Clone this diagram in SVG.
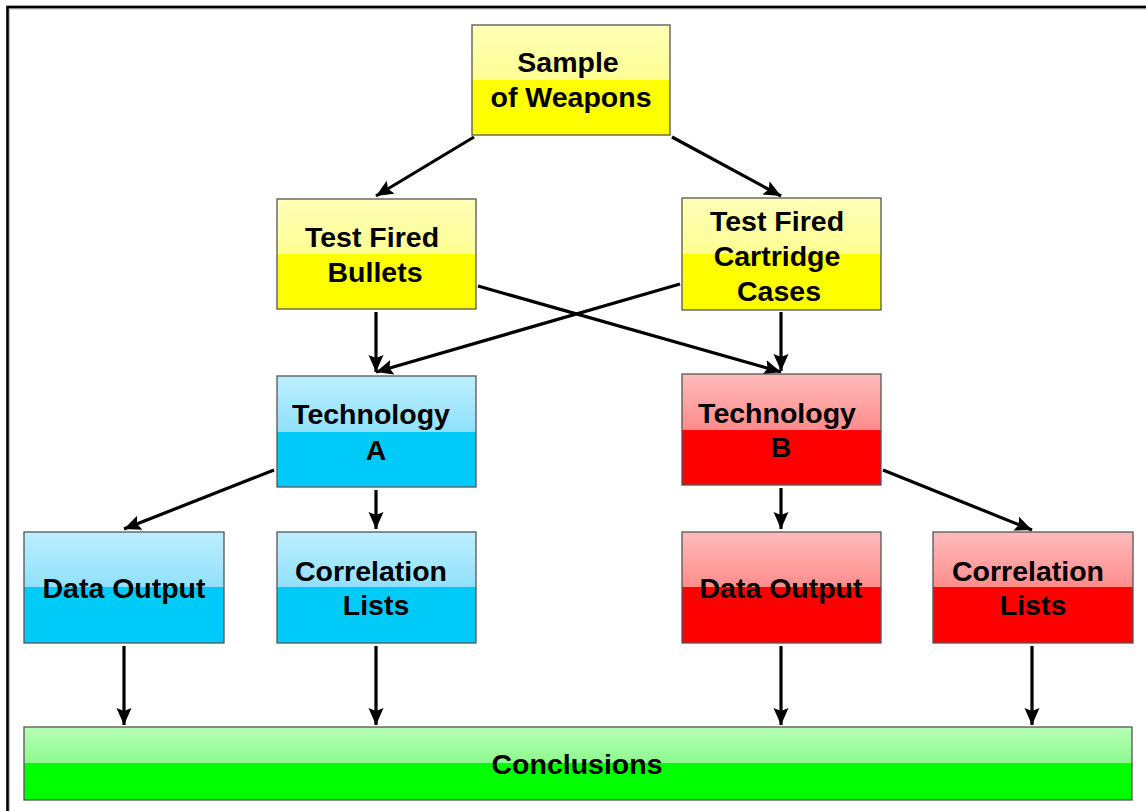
<svg xmlns="http://www.w3.org/2000/svg" width="1146" height="811" viewBox="0 0 1146 811">
  <defs>
    <linearGradient id="gYellow" x1="0" y1="0" x2="0" y2="1">
      <stop offset="0" stop-color="#ffffb8"/>
      <stop offset="0.5" stop-color="#ffff94"/>
      <stop offset="0.5" stop-color="#ffff00"/>
      <stop offset="1" stop-color="#ffff00"/>
    </linearGradient>
    <linearGradient id="gBlue" x1="0" y1="0" x2="0" y2="1">
      <stop offset="0" stop-color="#bdeeff"/>
      <stop offset="0.5" stop-color="#8fe1fb"/>
      <stop offset="0.5" stop-color="#00cbf8"/>
      <stop offset="1" stop-color="#00cbf8"/>
    </linearGradient>
    <linearGradient id="gRed" x1="0" y1="0" x2="0" y2="1">
      <stop offset="0" stop-color="#ffbcbc"/>
      <stop offset="0.5" stop-color="#ff8c8c"/>
      <stop offset="0.5" stop-color="#ff0000"/>
      <stop offset="1" stop-color="#ff0000"/>
    </linearGradient>
    <linearGradient id="gGreen" x1="0" y1="0" x2="0" y2="1">
      <stop offset="0" stop-color="#b8ffb8"/>
      <stop offset="0.5" stop-color="#8cfa8c"/>
      <stop offset="0.5" stop-color="#00ff00"/>
      <stop offset="1" stop-color="#00ff00"/>
    </linearGradient>
    <marker id="arrow" markerUnits="userSpaceOnUse" markerWidth="20" markerHeight="16" refX="17" refY="7.5" orient="auto">
      <path d="M0,0 L17,7.5 L0,15 L3,7.5 z" fill="#000"/>
    </marker>
  </defs>
  <style>
    .box { stroke: #555; stroke-width: 1.3; }
    .yellow { fill: url(#gYellow); }
    .blue { fill: url(#gBlue); }
    .red { fill: url(#gRed); }
    .green { fill: url(#gGreen); }
    .label { font-family: "Liberation Sans", Arial, sans-serif; font-weight: bold; font-size: 28.5px; fill: #000; text-anchor: middle; }
    .conn line { stroke: #000; stroke-width: 3.2; marker-end: url(#arrow); }
  </style>

  <rect x="0" y="0" width="1146" height="811" fill="#ffffff"/>
  <!-- outer frame (top and left edges) -->
  <path d="M8,811 V7.5 H1146" fill="none" stroke="#bbb" stroke-width="4"/>
  <path d="M7.5,811 V7 H1146" fill="none" stroke="#000" stroke-width="2.5"/>

  <g id="connectors" class="conn">
    <line x1="474" y1="137" x2="376" y2="196"/>
    <line x1="672" y1="137" x2="781" y2="196"/>
    <line x1="376" y1="312" x2="376" y2="372"/>
    <line x1="478" y1="286" x2="781" y2="372"/>
    <line x1="680" y1="284" x2="376" y2="372"/>
    <line x1="781" y1="312" x2="781" y2="371"/>
    <line x1="274" y1="470" x2="124" y2="529"/>
    <line x1="376" y1="490" x2="376" y2="529"/>
    <line x1="781" y1="488" x2="781" y2="529"/>
    <line x1="883" y1="470" x2="1032" y2="530"/>
    <line x1="124" y1="646" x2="124" y2="725"/>
    <line x1="376" y1="646" x2="376" y2="725"/>
    <line x1="781" y1="646" x2="781" y2="725"/>
    <line x1="1032" y1="646" x2="1032" y2="725"/>
  </g>

  <g id="sample-of-weapons">
    <rect class="box yellow" x="472" y="25" width="198" height="110"/>
    <text class="label" x="568" y="72">Sample</text>
    <text class="label" x="571" y="107">of Weapons</text>
  </g>

  <g id="test-fired-bullets">
    <rect class="box yellow" x="277" y="199" width="199" height="110"/>
    <text class="label" x="372" y="247">Test Fired</text>
    <text class="label" x="375" y="282">Bullets</text>
  </g>

  <g id="test-fired-cartridge-cases">
    <rect class="box yellow" x="682" y="198" width="199" height="112"/>
    <text class="label" x="777" y="231">Test Fired</text>
    <text class="label" x="777" y="266">Cartridge</text>
    <text class="label" x="779" y="301">Cases</text>
  </g>

  <g id="technology-a">
    <rect class="box blue" x="277" y="376" width="199" height="111"/>
    <text class="label" x="371" y="424">Technology</text>
    <text class="label" x="376" y="460">A</text>
  </g>

  <g id="technology-b">
    <rect class="box red" x="682" y="374" width="199" height="111"/>
    <text class="label" x="777" y="423">Technology</text>
    <text class="label" x="781" y="457">B</text>
  </g>

  <g id="data-output-a">
    <rect class="box blue" x="24" y="532" width="200" height="111"/>
    <text class="label" x="124" y="598">Data Output</text>
  </g>

  <g id="correlation-lists-a">
    <rect class="box blue" x="277" y="532" width="199" height="111"/>
    <text class="label" x="371" y="581">Correlation</text>
    <text class="label" x="376" y="615">Lists</text>
  </g>

  <g id="data-output-b">
    <rect class="box red" x="682" y="532" width="199" height="111"/>
    <text class="label" x="781" y="598">Data Output</text>
  </g>

  <g id="correlation-lists-b">
    <rect class="box red" x="933" y="532" width="200" height="111"/>
    <text class="label" x="1028" y="581">Correlation</text>
    <text class="label" x="1033" y="615">Lists</text>
  </g>

  <g id="conclusions">
    <rect class="box green" x="24" y="727" width="1108" height="73"/>
    <text class="label" x="577" y="774">Conclusions</text>
  </g>
</svg>
